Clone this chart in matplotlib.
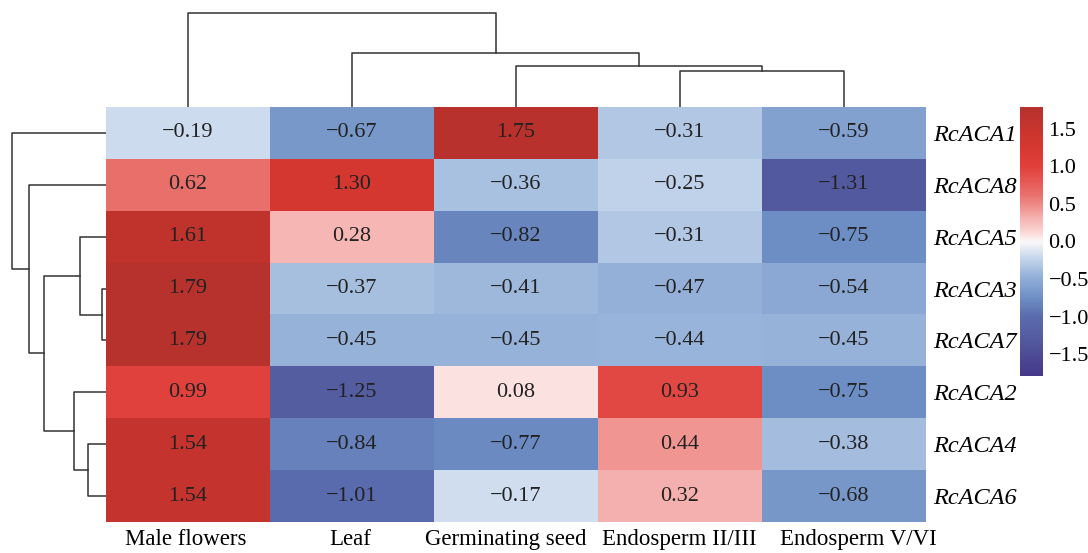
import numpy as np
import matplotlib
matplotlib.use("Agg")
import matplotlib.pyplot as plt
from matplotlib.colors import LinearSegmentedColormap
from matplotlib.transforms import ScaledTranslation

plt.rcParams["font.family"] = ["Liberation Serif", "DejaVu Serif"]

# ---- data ----
samples = ["Male flowers", "Leaf", "Germinating seed", "Endosperm II/III", "Endosperm V/VI"]
genes = ["RcACA1", "RcACA8", "RcACA5", "RcACA3", "RcACA7", "RcACA2", "RcACA4", "RcACA6"]
values = np.array([
    [-0.19, -0.67,  1.75, -0.31, -0.59],
    [ 0.62,  1.30, -0.36, -0.25, -1.31],
    [ 1.61,  0.28, -0.82, -0.31, -0.75],
    [ 1.79, -0.37, -0.41, -0.47, -0.54],
    [ 1.79, -0.45, -0.45, -0.44, -0.45],
    [ 0.99, -1.25,  0.08,  0.93, -0.75],
    [ 1.54, -0.84, -0.77,  0.44, -0.38],
    [ 1.54, -1.01, -0.17,  0.32, -0.68],
])
# linkage as (child a, child b, height); leaves 0..n-1, merged clusters n, n+1, ...
col_links = [(3, 4, 36), (2, 5, 41), (1, 6, 54), (0, 7, 94)]
row_links = [(3, 4, 4), (6, 7, 18), (2, 8, 26), (5, 9, 32), (10, 11, 62), (1, 12, 77), (0, 13, 94)]

# colour ramp (value, colour)
ramp = [(-1.79, "#45378A"), (-1.31, "#545A9F"), (-1.0, "#5A6CAE"), (-0.75, "#6E8FC5"),
        (-0.45, "#97B3DA"), (-0.2, "#CADAED"), (0.0, "#FAF7F7"), (0.1, "#FCDCDB"),
        (0.3, "#F5B4B2"), (0.62, "#EA706C"), (1.0, "#E1403B"), (1.3, "#D3372F"),
        (1.79, "#B7312D")]
vmin, vmax = -1.79, 1.79
cmap = LinearSegmentedColormap.from_list(
    "rwb", [((v - vmin) / (vmax - vmin), c) for v, c in ramp])


def dendro_segments(links, n):
    pos = {i: float(i) for i in range(n)}
    hgt = {i: 0.0 for i in range(n)}
    segs = []
    for k, (a, b, h) in enumerate(links):
        segs.append(([pos[a], pos[a], pos[b], pos[b]], [hgt[a], h, h, hgt[b]]))
        pos[n + k] = (pos[a] + pos[b]) / 2
        hgt[n + k] = h
    return segs


W, H = 1088, 553
fig = plt.figure(figsize=(W / 100, H / 100), dpi=100)


def px_axes(x0, y0, x1, y1):
    return fig.add_axes([x0 / W, 1 - y1 / H, (x1 - x0) / W, (y1 - y0) / H])


ax = px_axes(106, 107, 926, 522)
im = ax.imshow(values, cmap=cmap, vmin=vmin, vmax=vmax, aspect="auto", interpolation="nearest")
for i in range(values.shape[0]):
    for j in range(values.shape[1]):
        ax.text(j, i, f"{values[i, j]:.2f}".replace("-", "\u2212"),
                ha="center", va="center", fontsize=16, color="#222222")
ax.set_xticks(range(len(samples)))
ax.set_xticklabels(samples, fontsize=16.5)
ax.set_yticks(range(len(genes)))
ax.set_yticklabels(genes, fontsize=17.5, style="italic")
ax.yaxis.tick_right()
ax.tick_params(length=0, pad=5)
ax.tick_params(axis="x", pad=5)
for s in ax.spines.values():
    s.set_visible(False)
# the original labels sit a little off-centre so the long ones do not touch
for lab, dx in zip(ax.get_xticklabels(), [-0.02, -0.02, -0.1, -0.01, 0.14]):
    lab.set_transform(lab.get_transform() + ScaledTranslation(dx, 0, fig.dpi_scale_trans))

# column dendrogram
axc = px_axes(106, 11, 926, 107)
for xs, ys in dendro_segments(col_links, len(samples)):
    axc.plot(xs, ys, color="#333333", lw=1.1)
axc.set_xlim(-0.5, len(samples) - 0.5)
axc.set_ylim(0, 96)
axc.axis("off")

# row dendrogram
axr = px_axes(10, 107, 106, 522)
for ys, xs in dendro_segments(row_links, len(genes)):
    axr.plot(xs, ys, color="#333333", lw=1.1)
axr.set_ylim(len(genes) - 0.5, -0.5)
axr.set_xlim(96, 0)
axr.axis("off")

# colour bar
cax = px_axes(1020, 107, 1043, 376)
cb = fig.colorbar(im, cax=cax, ticks=[-1.5, -1.0, -0.5, 0.0, 0.5, 1.0, 1.5])
cb.outline.set_visible(False)
cb.ax.tick_params(length=0, labelsize=16, pad=4)
cb.ax.set_yticklabels([f"{t:.1f}".replace("-", "\u2212") for t in cb.get_ticks()])

fig.savefig("out.png", dpi=100)
